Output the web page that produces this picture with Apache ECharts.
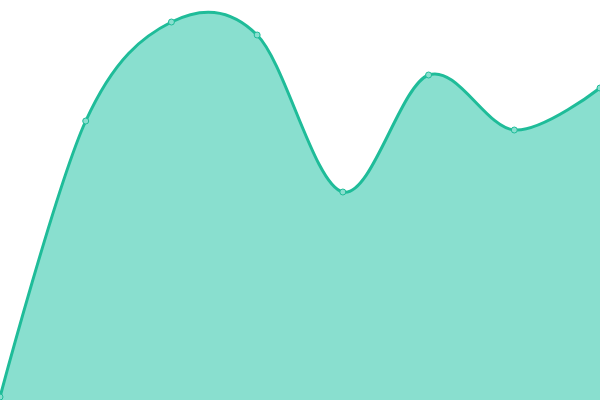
<!DOCTYPE html>
<html>
<head>
<meta charset="utf-8">
<script src="https://cdn.jsdelivr.net/npm/echarts@6/dist/echarts.min.js"></script>
<style>
  html, body { margin: 0; padding: 0; background: #fff; }
  #chart { width: 600px; height: 400px; }
</style>
</head>
<body>
<div id="chart"></div>
<script>
// data
const categories = ['1', '2', '3', '4', '5', '6', '7', '8']
const values = [3, 279, 378, 365, 208, 325, 270, 312]

const lineColor = '#1fbc99'
const areaColor = '#89dfcf'
// catmull-rom style tangent factor
const smooth = 1 / 6

function controlPoints(pts) {
  const cps = []
  for (let i = 0; i < pts.length; i++) {
    const p = pts[i]
    if (i === 0 || i === pts.length - 1) {
      cps.push([p[0], p[1]], [p[0], p[1]])
      continue
    }
    const prev = pts[i - 1]
    const next = pts[i + 1]
    const vx = (next[0] - prev[0]) * smooth
    const vy = (next[1] - prev[1]) * smooth
    cps.push([p[0] - vx, p[1] - vy], [p[0] + vx, p[1] + vy])
  }
  return cps
}

function renderCurve(params, api) {
  if (params.dataIndex !== 0) return null
  const pts = values.map((v, i) => api.coord([i, v]))
  const cps = controlPoints(pts)
  let d = `M${pts[0][0]} ${pts[0][1]}`
  for (let i = 0; i < pts.length - 1; i++) {
    const c0 = cps[i * 2 + 1]
    const c1 = cps[(i + 1) * 2]
    const p = pts[i + 1]
    d += ` C${c0[0]} ${c0[1]} ${c1[0]} ${c1[1]} ${p[0]} ${p[1]}`
  }
  const baseEnd = api.coord([values.length - 1, 0])
  const baseStart = api.coord([0, 0])
  const area = d + ` L${baseEnd[0]} ${baseEnd[1]} L${baseStart[0]} ${baseStart[1]} Z`
  return {
    type: 'group',
    children: [
      { type: 'path', shape: { pathData: area }, style: { fill: areaColor } },
      { type: 'path', shape: { pathData: d }, style: { fill: null, stroke: lineColor, lineWidth: 3 } }
    ]
  }
}

const chart = echarts.init(document.getElementById('chart'))

chart.setOption({
  animation: false,
  grid: { left: 0, right: 0, top: 0, bottom: 0 },
  xAxis: {
    type: 'category',
    boundaryGap: false,
    data: categories,
    show: false
  },
  yAxis: {
    type: 'value',
    min: 0,
    max: 400,
    show: false
  },
  series: [{
    type: 'custom',
    data: values.map((v, i) => [i, v]),
    renderItem: renderCurve,
    clip: false,
    silent: true
  }, {
    type: 'scatter',
    data: values.map((v, i) => [i, v]),
    symbol: 'circle',
    symbolSize: 6,
    itemStyle: { color: areaColor, borderColor: lineColor, borderWidth: 1, opacity: 1 },
    z: 3
  }]
})
</script>
</body>
</html>
